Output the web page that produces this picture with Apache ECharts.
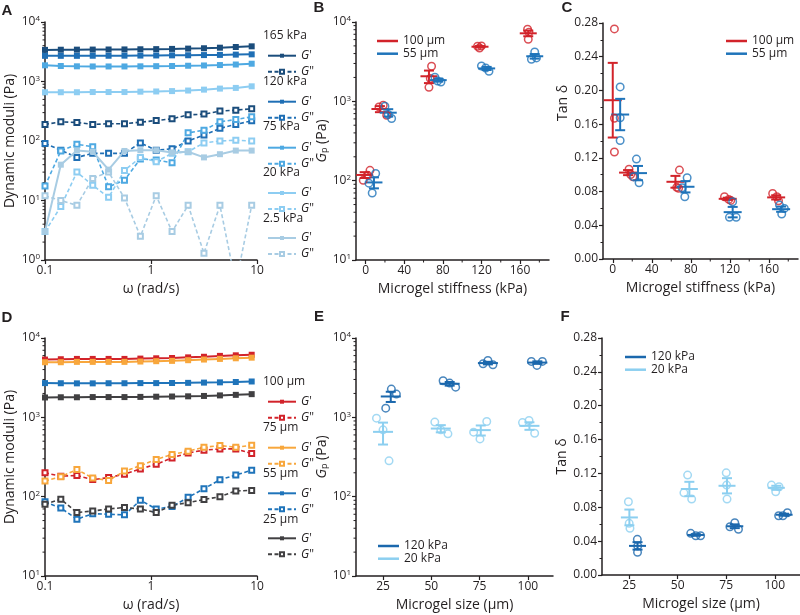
<!DOCTYPE html>
<html>
<head>
<meta charset="utf-8">
<script src="https://cdn.jsdelivr.net/npm/echarts@6/dist/echarts.min.js"></script>
<style>
  html, body { margin: 0; padding: 0; background: #fff; }
  #main { width: 800px; height: 615px; }
</style>
</head>
<body>
<div id="main"></div>
<script>
// frequency sweep (rad/s)
var omega = [0.1, 0.141, 0.2, 0.282, 0.398, 0.562, 0.794, 1.12, 1.58, 2.24, 3.16, 4.47, 6.31, 8.91];

// panel A: G' / G'' by microgel stiffness
var a165G1 = [3400, 3420, 3430, 3440, 3450, 3460, 3480, 3500, 3530, 3570, 3620, 3700, 3800, 3900];
var a165G2 = [190, 210, 205, 190, 195, 195, 207, 221, 236, 275, 283, 318, 330, 348];
var a120G1 = [2700, 2700, 2700, 2710, 2710, 2720, 2730, 2740, 2750, 2760, 2780, 2800, 2830, 2860];
var a120G2 = [91, 70, 53, 62, 62, 62, 93, 70, 74, 100, 126, 163, 190, 218];
var a75G1 = [1870, 1820, 1800, 1790, 1790, 1790, 1800, 1810, 1820, 1840, 1860, 1890, 1930, 1990];
var a75G2 = [17.5, 68, 88, 80, 17, 22, 50, 48, 43, 137, 152, 210, 230, 255];
var a20G1 = [660, 660, 660, 665, 665, 665, 675, 680, 690, 705, 730, 760, 780, 830];
var a20G2 = [3, 7.9, 30, 18, 11.3, 32, 53, 45, 62, 66, 93, 100, 103, 100];
var a2G1 = [3, 40, 69, 66, 33, 68, 70, 70, 64, 66, 53, 60, 69, 69];
var a2G2 = [12, 10, 8.3, 23.5, 30, 11, 2.5, 12, 3, 8.3, 1.3, 8.3, 0.4, 8.3];

// panel D: G' / G'' by microgel size
var d100G1 = [5350, 5400, 5450, 5450, 5450, 5450, 5500, 5550, 5600, 5700, 5800, 5950, 6050, 6150];
var d100G2 = [200, 181, 185, 164, 174, 192, 224, 256, 308, 356, 385, 400, 400, 349];
var d75G1 = [4950, 4950, 5000, 5000, 5000, 5000, 5050, 5100, 5150, 5250, 5350, 5450, 5550, 5650];
var d75G2 = [158, 178, 220, 172, 160, 210, 245, 295, 340, 375, 420, 440, 420, 445];
var d55G1 = [2700, 2690, 2680, 2680, 2690, 2690, 2700, 2700, 2710, 2720, 2740, 2760, 2790, 2830];
var d55G2 = [86, 72, 52, 61, 60, 59, 90, 70, 75, 98, 126, 163, 188, 215];
var d25G1 = [1780, 1790, 1790, 1800, 1800, 1800, 1810, 1820, 1830, 1840, 1860, 1890, 1920, 1960];
var d25G2 = [80, 93, 63, 66, 70, 73, 70, 63, 78, 84, 92, 100, 118, 120];

// panel B: Gp vs stiffness (points + mean/sem)
var b100X = [-2.5, 2, 4.5, 13.8, 18.2, 21.8, 65.6, 67, 68.3, 116, 118, 120, 167.8, 168.5, 169.2];
var b100Y = [101, 117, 135, 850, 893, 668, 1500, 1940, 2770, 4950, 4700, 5000, 8090, 6050, 7450];
var bMean100X = [-1, 14.8, 65.6, 118.5, 168.5];
var bMean100 = [118, 800, 2070, 4880, 7200];
var bSem100 = [10, 70, 372, 95, 590];
var b55X = [3.4, 6.8, 10.4, 20, 23.4, 26.9, 71.8, 74.6, 78, 120, 124.4, 127.8, 171.8, 175.2, 177];
var b55Y = [93, 70, 123, 867, 682, 607, 2010, 1800, 1750, 2790, 2630, 2390, 3390, 4190, 3530];
var bMean55X = [8.6, 23.4, 75.2, 125.4, 175.2];
var bMean55 = [95, 719, 1850, 2600, 3700];
var bSem55 = [15, 77, 80, 116, 246];

// panel C: tan delta vs stiffness
var c100X = [1.7, 1.7, 1.7, 16.7, 18.4, 20.7, 68.4, 65.6, 67.5, 114.6, 119, 121, 164, 168.2, 170];
var c100Y = [0.273, 0.167, 0.127, 0.1066, 0.1003, 0.0976, 0.1055, 0.085, 0.084, 0.0738, 0.0707, 0.0695, 0.0778, 0.0738, 0.069];
var cMean100X = [0, 15.7, 64.3, 117.9, 167.6];
var cMean100 = [0.1884, 0.1025, 0.0916, 0.0714, 0.0731];
var cSem100 = [0.0443, 0.003, 0.007, 0.0013, 0.0025];
var c55X = [7.6, 7.6, 7.6, 24.3, 21.5, 27, 76.3, 71.2, 73.9, 123, 119.7, 126.6, 171, 173.3, 176];
var c55Y = [0.2042, 0.1675, 0.1406, 0.1185, 0.0976, 0.0905, 0.0964, 0.0845, 0.0738, 0.0679, 0.0494, 0.0494, 0.064, 0.0533, 0.06];
var cMean55X = [7.6, 25.9, 74.6, 123, 172.7];
var cMean55 = [0.1714, 0.1019, 0.0857, 0.0556, 0.0591];
var cSem55 = [0.0186, 0.0085, 0.0067, 0.0062, 0.0031];

// panel E: Gp vs size
var e120X = [29.3, 31.9, 26.4, 56.1, 59.5, 62.6, 76.8, 79.3, 81.9, 101.8, 104.7, 107.5];
var e120Y = [2270, 1965, 1306, 2890, 2700, 2400, 4730, 5210, 4600, 5070, 4510, 5070];
var eMean120X = [29, 59.5, 79.3, 104.9];
var eMean120 = [1832, 2650, 4830, 4900];
var eSem120 = [270, 140, 180, 180];
var e20X = [21.6, 25, 28.1, 51.8, 54.9, 58.6, 71.9, 75.2, 78.7, 97.2, 100.6, 103.5];
var e20Y = [977, 695, 283, 871, 695, 619, 650, 535, 885, 859, 912, 631];
var eMean20X = [25, 54.9, 75.6, 100.8];
var eMean20 = [656, 722, 690, 781];
var eSem20 = [202, 75, 100, 85];

// panel F: tan delta vs size
var f20X = [24.6, 25, 25.4, 55.1, 53.2, 57.2, 75, 75.2, 75.4, 98.3, 100.5, 102.2];
var f20Y = [0.0865, 0.061, 0.0551, 0.118, 0.0971, 0.0897, 0.1207, 0.1062, 0.0897, 0.1062, 0.0983, 0.1042];
var fMean20X = [25.1, 56, 75.4, 100.8];
var fMean20 = [0.068, 0.1016, 0.1054, 0.103];
var fSem20 = [0.0093, 0.0085, 0.009, 0.0024];
var f120X = [29.2, 29.4, 29.3, 56.7, 59.3, 61.8, 76.9, 79.4, 81.3, 102, 104.2, 106.5];
var f120Y = [0.0421, 0.0342, 0.0268, 0.0492, 0.0464, 0.0464, 0.057, 0.0617, 0.054, 0.07, 0.07, 0.0735];
var fMean120X = [29.3, 59.3, 79.4, 104.8];
var fMean120 = [0.0344, 0.0473, 0.0576, 0.0712];
var fSem120 = [0.0044, 0.001, 0.0022, 0.0012];

var stiffTicks = [0, 40, 80, 120, 160];
var stiffMinor = [20, 60, 100, 140, 180];
var sizeTicks = [25, 50, 75, 100];

var FONT = "'Open Sans', 'Liberation Sans', sans-serif";
var INK = '#231f20';
var RED = '#d2232a', BLUE = '#1f74ba';
var cA = ['#1b4d7c', '#1f6fb5', '#4ea9e2', '#8dcdf2', '#a8cce3'];
var cD = ['#d2232a', '#f8a73c', '#1f74ba', '#414042'];
var DARK = '#1b68ad', LIGHT = '#8ccff0';

var chart = echarts.init(document.getElementById('main'), null, { renderer: 'canvas' });

function logMinor(lo, hi) {
    var out = [];
    for (var d = lo; d < hi; d *= 10) {
        for (var k = 2; k <= 9; k++) out.push(k * d);
    }
    return out;
}

function xAx(gi, o) {
    return Object.assign({
        gridIndex: gi,
        axisLine: { show: true, onZero: false, lineStyle: { color: INK, width: 1.5 } },
        axisTick: { show: true, length: 4, lineStyle: { color: INK, width: 1.2 } },
        axisLabel: { color: INK, fontSize: 12, fontFamily: FONT, margin: 5 },
        splitLine: { show: false },
        nameLocation: 'middle',
        nameGap: 22,
        nameTextStyle: { color: INK, fontSize: 14, fontFamily: FONT }
    }, o);
}
function yAx(gi, o) {
    return xAx(gi, Object.assign({ nameGap: 28 }, o));
}
var logLabel = {
    color: INK, fontSize: 12, fontFamily: FONT, margin: 5,
    formatter: function (v) { return '{n|10}{s|' + Math.round(Math.log10(v)) + '}'; },
    rich: {
        n: { fontSize: 12, fontFamily: FONT, color: INK },
        s: { fontSize: 8, fontFamily: FONT, color: INK, verticalAlign: 'top', lineHeight: 14 }
    }
};
var gpName = {
    color: INK, fontSize: 14, fontFamily: FONT,
    rich: {
        i: { fontStyle: 'italic', fontSize: 14, fontFamily: FONT, color: INK },
        p: { fontSize: 9, fontFamily: FONT, color: INK, verticalAlign: 'bottom', lineHeight: 12 },
        t: { fontSize: 14, fontFamily: FONT, color: INK }
    }
};

function tickSeries(gi, dim, vals, ref, len) {
    return {
        type: 'custom', xAxisIndex: gi, yAxisIndex: gi, silent: true, clip: false, z: 1,
        data: vals.map(function (v) { return dim === 'y' ? [ref, v] : [v, ref]; }),
        renderItem: function (params, api) {
            var p = api.coord([api.value(0), api.value(1)]);
            var cs = params.coordSys;
            var shape = dim === 'y'
                ? { x1: cs.x - len, y1: p[1], x2: cs.x, y2: p[1] }
                : { x1: p[0], y1: cs.y + cs.height, x2: p[0], y2: cs.y + cs.height + len };
            return { type: 'line', shape: shape, style: { stroke: INK, lineWidth: 1 } };
        }
    };
}

function errSeries(name, gi, color, xs, means, sems, half) {
    return {
        type: 'custom', name: name, xAxisIndex: gi, yAxisIndex: gi, z: 3,
        itemStyle: { color: color },
        data: xs.map(function (x, i) { return [x, means[i], means[i] - sems[i], means[i] + sems[i]]; }),
        encode: { x: 0, y: [1, 2, 3] },
        renderItem: function (params, api) {
            var c = api.coord([api.value(0), api.value(1)]);
            var lo = api.coord([api.value(0), api.value(2)]);
            var hi = api.coord([api.value(0), api.value(3)]);
            var st = { stroke: color, lineWidth: 2 };
            return {
                type: 'group', children: [
                    { type: 'line', shape: { x1: c[0] - half, y1: c[1], x2: c[0] + half, y2: c[1] }, style: st },
                    { type: 'line', shape: { x1: c[0], y1: lo[1], x2: c[0], y2: hi[1] }, style: st },
                    { type: 'line', shape: { x1: c[0] - 5, y1: lo[1], x2: c[0] + 5, y2: lo[1] }, style: st },
                    { type: 'line', shape: { x1: c[0] - 5, y1: hi[1], x2: c[0] + 5, y2: hi[1] }, style: st }
                ]
            };
        }
    };
}

function dots(name, gi, color, xs, ys) {
    return {
        type: 'scatter', name: name, xAxisIndex: gi, yAxisIndex: gi, z: 4,
        symbol: 'circle', symbolSize: 7.5,
        itemStyle: { color: 'rgba(255,255,255,0)', borderColor: color, borderWidth: 1.5 },
        data: xs.map(function (x, i) { return [x, ys[i]]; })
    };
}

function modLine(name, gi, color, ys, filled) {
    return {
        type: 'line', name: name, xAxisIndex: gi, yAxisIndex: gi,
        data: omega.map(function (w, i) { return [w, ys[i]]; }),
        symbol: filled ? 'rect' : 'emptyRect',
        symbolSize: filled ? 6 : 5,
        color: color,
        lineStyle: { width: filled ? 2 : 1.6, type: filled ? 'solid' : [4, 2.5], color: color },
        itemStyle: { color: color, borderColor: color, borderWidth: filled ? 0 : 1.2 },
        z: filled ? 3 : 2
    };
}

var grids = [
    { left: 45, top: 22, width: 212, height: 238 },
    { left: 356, top: 22, width: 193, height: 238 },
    { left: 603, top: 23, width: 195, height: 236 },
    { left: 45, top: 338, width: 212, height: 238 },
    { left: 356, top: 338, width: 197, height: 238 },
    { left: 602, top: 338, width: 198, height: 237 }
];

var xAxes = [
    xAx(0, { type: 'log', logBase: 10, min: 0.1, max: 10, name: 'ω (rad/s)' }),
    xAx(1, { type: 'value', min: -10, max: 190, name: 'Microgel stiffness (kPa)',
        axisTick: { show: true, length: 4, customValues: stiffTicks, lineStyle: { color: INK, width: 1.2 } },
        axisLabel: { color: INK, fontSize: 12, fontFamily: FONT, margin: 5, customValues: stiffTicks } }),
    xAx(2, { type: 'value', min: -10, max: 190, name: 'Microgel stiffness (kPa)',
        axisTick: { show: true, length: 4, customValues: stiffTicks, lineStyle: { color: INK, width: 1.2 } },
        axisLabel: { color: INK, fontSize: 12, fontFamily: FONT, margin: 5, customValues: stiffTicks } }),
    xAx(3, { type: 'log', logBase: 10, min: 0.1, max: 10, name: 'ω (rad/s)' }),
    xAx(4, { type: 'value', min: 11, max: 113, name: 'Microgel size (µm)',
        axisTick: { show: true, length: 4, customValues: sizeTicks, lineStyle: { color: INK, width: 1.2 } },
        axisLabel: { color: INK, fontSize: 12, fontFamily: FONT, margin: 5, customValues: sizeTicks } }),
    xAx(5, { type: 'value', min: 11, max: 113, name: 'Microgel size (µm)',
        axisTick: { show: true, length: 4, customValues: sizeTicks, lineStyle: { color: INK, width: 1.2 } },
        axisLabel: { color: INK, fontSize: 12, fontFamily: FONT, margin: 5, customValues: sizeTicks } })
];

var tanLabel = { color: INK, fontSize: 12, fontFamily: FONT, margin: 5, formatter: function (v) { return v.toFixed(2); } };
var tanMinor = { show: true, splitNumber: 2, length: 2.5, lineStyle: { color: INK, width: 1 } };

var yAxes = [
    yAx(0, { type: 'log', logBase: 10, min: 1, max: 10000, name: 'Dynamic moduli (Pa)', nameGap: 28, axisLabel: logLabel }),
    yAx(1, { type: 'log', logBase: 10, min: 10, max: 10000, name: '{i|G}{p|p}{t| (Pa)}', nameGap: 4, axisLabel: logLabel, nameTextStyle: gpName }),
    yAx(2, { type: 'value', min: 0, max: 0.28, interval: 0.04, axisLabel: tanLabel, minorTick: tanMinor }),
    yAx(3, { type: 'log', logBase: 10, min: 10, max: 10000, name: 'Dynamic moduli (Pa)', nameGap: 28, axisLabel: logLabel }),
    yAx(4, { type: 'log', logBase: 10, min: 10, max: 10000, name: '{i|G}{p|p}{t| (Pa)}', nameGap: 17, axisLabel: logLabel, nameTextStyle: gpName }),
    yAx(5, { type: 'value', min: 0, max: 0.28, interval: 0.04, name: 'Tan δ', nameGap: 32, axisLabel: tanLabel, minorTick: tanMinor })
];

var series = [
    tickSeries(0, 'y', logMinor(1, 10000), 0.1, 2.5),
    tickSeries(1, 'y', logMinor(10, 10000), -10, 2.5),
    tickSeries(3, 'y', logMinor(10, 10000), 0.1, 2.5),
    tickSeries(4, 'y', logMinor(10, 10000), 11, 2.5),
    tickSeries(1, 'x', stiffMinor, 10, 2.5),
    tickSeries(2, 'x', stiffMinor, 0, 2.5),

    modLine("165 kPa G'", 0, cA[0], a165G1, true),
    modLine('165 kPa G"', 0, cA[0], a165G2, false),
    modLine("120 kPa G'", 0, cA[1], a120G1, true),
    modLine('120 kPa G"', 0, cA[1], a120G2, false),
    modLine("75 kPa G'", 0, cA[2], a75G1, true),
    modLine('75 kPa G"', 0, cA[2], a75G2, false),
    modLine("20 kPa G'", 0, cA[3], a20G1, true),
    modLine('20 kPa G"', 0, cA[3], a20G2, false),
    modLine("2.5 kPa G'", 0, cA[4], a2G1, true),
    modLine('2.5 kPa G"', 0, cA[4], a2G2, false),

    modLine("100 µm G'", 3, cD[0], d100G1, true),
    modLine('100 µm G"', 3, cD[0], d100G2, false),
    modLine("75 µm G'", 3, cD[1], d75G1, true),
    modLine('75 µm G"', 3, cD[1], d75G2, false),
    modLine("55 µm G'", 3, cD[2], d55G1, true),
    modLine('55 µm G"', 3, cD[2], d55G2, false),
    modLine("25 µm G'", 3, cD[3], d25G1, true),
    modLine('25 µm G"', 3, cD[3], d25G2, false),

    errSeries('100 µm', 1, RED, bMean100X, bMean100, bSem100, 8.5),
    errSeries('55 µm', 1, BLUE, bMean55X, bMean55, bSem55, 8.5),
    dots('100 µm', 1, RED, b100X, b100Y),
    dots('55 µm', 1, BLUE, b55X, b55Y),

    errSeries('100 µm', 2, RED, cMean100X, cMean100, cSem100, 9),
    errSeries('55 µm', 2, BLUE, cMean55X, cMean55, cSem55, 9),
    dots('100 µm', 2, RED, c100X, c100Y),
    dots('55 µm', 2, BLUE, c55X, c55Y),

    errSeries('120 kPa', 4, DARK, eMean120X, eMean120, eSem120, 10),
    errSeries('20 kPa', 4, LIGHT, eMean20X, eMean20, eSem20, 10),
    dots('120 kPa', 4, DARK, e120X, e120Y),
    dots('20 kPa', 4, LIGHT, e20X, e20Y),

    errSeries('120 kPa', 5, DARK, fMean120X, fMean120, fSem120, 8.5),
    errSeries('20 kPa', 5, LIGHT, fMean20X, fMean20, fSem20, 8.5),
    dots('120 kPa', 5, DARK, f120X, f120Y),
    dots('20 kPa', 5, LIGHT, f20X, f20Y)
];

// legends
var legends = [];
var gLegendText = {
    color: INK, fontSize: 12, fontFamily: FONT, lineHeight: 12,
    rich: { i: { fontStyle: 'italic', fontSize: 12, fontFamily: FONT, color: INK, lineHeight: 12 } }
};
function gLegend(group, top) {
    legends.push({
        left: 262, top: top, orient: 'vertical', itemWidth: 28, itemHeight: 5, itemGap: 4,
        selectedMode: false, textStyle: gLegendText,
        data: [group + " G'", group + ' G"'],
        formatter: function (n) { return n.charAt(n.length - 1) === '"' ? '{i|G}"' : "{i|G}'"; }
    });
}
var aGroups = ['165 kPa', '120 kPa', '75 kPa', '20 kPa', '2.5 kPa'];
var aHeadY = [36, 81.7, 127, 173, 219];
var aItemY = [50.7, 96.7, 142.7, 188, 233];
var dGroups = ['100 µm', '75 µm', '55 µm', '25 µm'];
var dHeadY = [381.7, 427.7, 473.3, 519.3];
var dItemY = [396.7, 442.7, 488.3, 533.3];
aGroups.forEach(function (g, i) { gLegend(g, aItemY[i] - 6); });
dGroups.forEach(function (g, i) { gLegend(g, dItemY[i] - 6); });

function barLegend(left, top, names) {
    legends.push({
        left: left, top: top, orient: 'vertical', itemWidth: 21, itemHeight: 2.5, itemGap: 0.7,
        selectedMode: false,
        textStyle: { color: INK, fontSize: 12, fontFamily: FONT, lineHeight: 12 },
        data: names.map(function (n) { return { name: n, icon: 'rect' }; })
    });
}
barLegend(372, 30, ['100 µm', '55 µm']);
barLegend(721, 30, ['100 µm', '55 µm']);
barLegend(373, 535, ['120 kPa', '20 kPa']);
barLegend(620, 346, ['120 kPa', '20 kPa']);

var graphics = [];
function txt(s, x, y, o) {
    graphics.push({
        type: 'text', x: x, y: y, rotation: (o && o.rot) || 0, silent: true,
        style: Object.assign({ text: s, fill: INK, fontSize: 12, fontFamily: FONT, align: 'left', verticalAlign: 'middle' }, o && o.style)
    });
}
aGroups.forEach(function (g, i) { txt(g, 263, aHeadY[i]); });
dGroups.forEach(function (g, i) { txt(g, 263, dHeadY[i]); });
var letters = [['A', 7, 11], ['B', 319, 8], ['C', 567, 8], ['D', 7, 318], ['E', 319, 317], ['F', 565, 317]];
letters.forEach(function (l) {
    txt(l[0], l[1], l[2], { style: { fontSize: 15, fontWeight: 'bold', align: 'center', fontFamily: "'Liberation Sans', sans-serif" } });
});
txt('Tan δ', 563, 103, { rot: Math.PI / 2, style: { fontSize: 14, align: 'center' } });

chart.setOption({
    animation: false,
    backgroundColor: '#fff',
    grid: grids,
    xAxis: xAxes,
    yAxis: yAxes,
    legend: legends,
    graphic: graphics,
    series: series
});
</script>
</body>
</html>
